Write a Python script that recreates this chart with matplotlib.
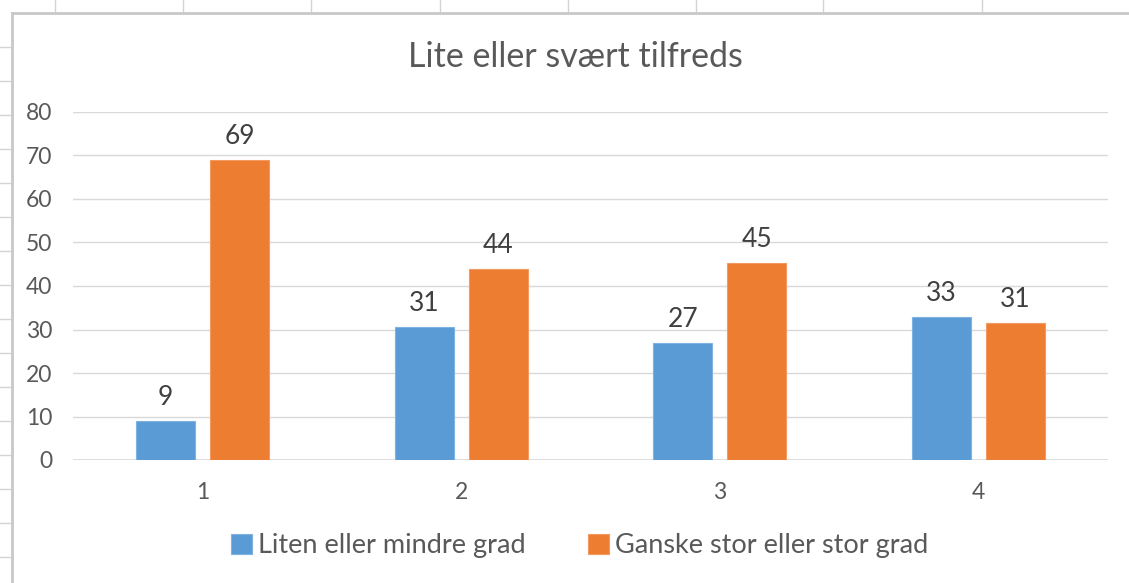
import matplotlib

matplotlib.use("Agg")
import matplotlib.pyplot as plt
import numpy as np
from matplotlib.lines import Line2D

# Data
categories = ["1", "2", "3", "4"]
liten = [8.9, 30.6, 26.8, 32.9]
stor = [68.9, 43.9, 45.3, 31.4]
series_names = ["Liten eller mindre grad", "Ganske stor eller stor grad"]
yticks = [0, 10, 20, 30, 40, 50, 60, 70, 80]

BLUE = "#5B9BD5"
ORANGE = "#ED7D31"
TEXT = "#595959"
GRID = "#D9D9D9"

plt.rcParams["font.family"] = ["Lato", "DejaVu Sans"]

W, H = 1129, 583
fig = plt.figure(figsize=(W / 100, H / 100), dpi=100)
fig.patch.set_facecolor("white")

# spreadsheet cells peeking around the chart
sheet = "#D4D4D4"
for x in [55, 183, 311, 440, 568, 696, 823, 982]:
    fig.add_artist(Line2D([x / W, x / W], [1, 1 - 12 / H], color=sheet, lw=1))
for y in range(47, H, 34):
    fig.add_artist(Line2D([0, 12 / W], [1 - y / H, 1 - y / H], color=sheet, lw=1))
fig.add_artist(Line2D([12 / W, 1], [1 - 13 / H, 1 - 13 / H], color="#C8C8C8", lw=2))
fig.add_artist(Line2D([12 / W, 12 / W], [0, 1 - 13 / H], color="#C8C8C8", lw=2))

ax = fig.add_axes([73 / W, 1 - 460 / H, (1108 - 73) / W, (460 - 112) / H])
x = np.arange(len(categories))
bw = 0.228
off = (bw + 0.058) / 2
b1 = ax.bar(x - off, liten, bw, color=BLUE, edgecolor="#7FB2E0", lw=0.8,
            label=series_names[0], zorder=3)
b2 = ax.bar(x + off, stor, bw, color=ORANGE, edgecolor="#F29A5F", lw=0.8,
            label=series_names[1], zorder=3)
for bars in (b1, b2):
    ax.bar_label(bars, fmt="%.0f", padding=8, fontsize=19, color="#404040")

ax.set_xlim(-0.5, len(categories) - 0.5)
ax.set_ylim(0, 80)
ax.set_yticks(yticks)
ax.set_xticks(x)
ax.set_xticklabels(categories)
ax.grid(axis="y", color=GRID, lw=1, zorder=0)
ax.tick_params(length=0, labelsize=16.5, labelcolor=TEXT)
ax.tick_params(axis="y", pad=15)
ax.tick_params(axis="x", pad=16)
for s in ax.spines.values():
    s.set_visible(False)
ax.axhline(0, color=GRID, lw=1.2, zorder=2)

fig.text(575 / W, 1 - 57 / H, "Lite eller svært tilfreds", ha="center", va="center",
         fontsize=24.5, color=TEXT)

fig.legend(handles=[b1, b2], loc="center", bbox_to_anchor=(580 / W, 1 - 546 / H),
           ncol=2, frameon=False, fontsize=19.5, labelcolor=TEXT,
           handlelength=0.75, handleheight=0.75, handletextpad=0.25, columnspacing=2.3)

fig.savefig("out.png", dpi=100)
